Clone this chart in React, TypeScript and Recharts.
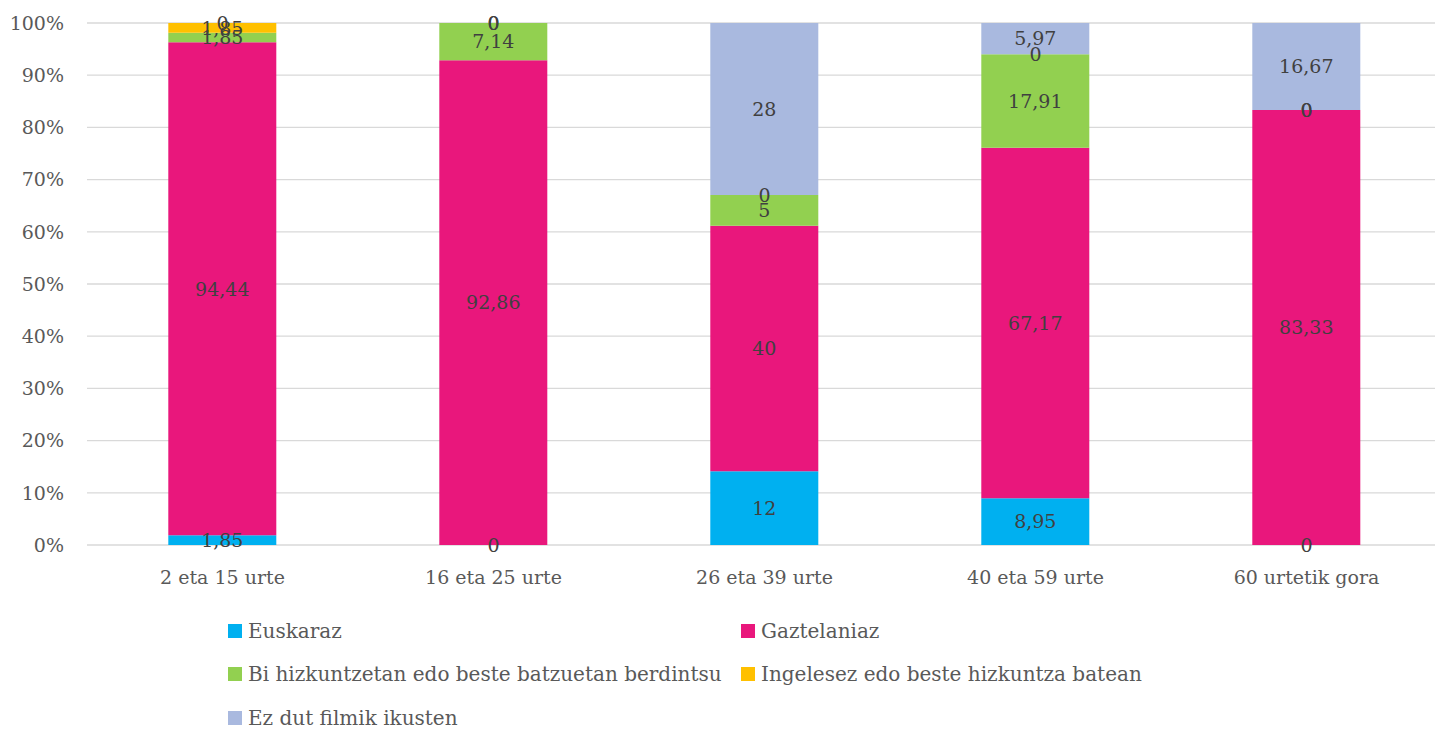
import { Bar, BarChart, CartesianGrid, LabelList, Legend, ReferenceDot, XAxis, YAxis } from "recharts";

// Excel-ish palette pinned from the reference picture.
const BLUE = "#00B0F0";
const PINK = "#E9177C";
const GREEN = "#92D050";
const YELLOW = "#FFC000";
const LAVENDER = "#A9B9DF";
const GRID = "#D9D9D9";
const AXIS_TEXT = "#595959";
const LABEL_TEXT = "#404040";
const FONT = "'DejaVu Serif', serif";

const CATEGORIES = ["2 eta 15 urte", "16 eta 25 urte", "26 eta 39 urte", "40 eta 59 urte", "60 urtetik gora"];
const EUSKARAZ = [1.85, 0, 12, 8.95, 0];
const GAZTELANIAZ = [94.44, 92.86, 40, 67.17, 83.33];
const BI_HIZKUNTZETAN = [1.85, 7.14, 5, 17.91, 0];
const INGELESEZ = [1.85, 0, 0, 0, 0];
const EZ_DUT = [0, 0, 28, 5.97, 16.67];
const Y_TICKS = [0, 0.1, 0.2, 0.3, 0.4, 0.5, 0.6, 0.7, 0.8, 0.9, 1];

const SERIES = [
  { key: "eus", name: "Euskaraz", color: BLUE, values: EUSKARAZ },
  { key: "gaz", name: "Gaztelaniaz", color: PINK, values: GAZTELANIAZ },
  { key: "bi", name: "Bi hizkuntzetan edo beste batzuetan berdintsu", color: GREEN, values: BI_HIZKUNTZETAN },
  { key: "ing", name: "Ingelesez edo beste hizkuntza batean", color: YELLOW, values: INGELESEZ },
  { key: "ez", name: "Ez dut filmik ikusten", color: LAVENDER, values: EZ_DUT },
];

const data = CATEGORIES.map((name, i) => {
  const row: Record<string, string | number> = { name };
  SERIES.forEach((s) => (row[s.key] = s.values[i]));
  return row;
});

// Recharts drops labels on zero-height segments, but Excel still prints "0"
// at the segment boundary — so place those via ReferenceDot on the same axes.
const zeroLabels = CATEGORIES.flatMap((name, i) => {
  const total = SERIES.reduce((acc, s) => acc + s.values[i], 0);
  let cum = 0;
  const out: { name: string; y: number; key: string }[] = [];
  SERIES.forEach((s) => {
    cum += s.values[i];
    if (s.values[i] === 0) out.push({ name, y: cum / total, key: `${s.key}-${i}` });
  });
  return out;
});

const fmtComma = (v: unknown) => String(v).replace(".", ",");

function LegendGrid() {
  return (
    <div
      style={{
        height: 130,
        boxSizing: "border-box",
        paddingTop: 10,
        paddingLeft: 228,
        display: "grid",
        gridTemplateColumns: "513px auto",
        gridAutoRows: 43.5,
        fontFamily: FONT,
        fontSize: 20,
        color: AXIS_TEXT,
      }}
    >
      {SERIES.map((s) => (
        <div key={s.key} style={{ display: "flex", alignItems: "center", whiteSpace: "nowrap" }}>
          <span style={{ width: 14, height: 14, background: s.color, marginRight: 6, flexShrink: 0 }} />
          {s.name}
        </div>
      ))}
    </div>
  );
}

export default function App() {
  return (
    <div style={{ position: "absolute", left: 0, top: 0, width: 1435, height: 729, overflow: "hidden", background: "#fff" }}>
      <BarChart
        width={1442}
        height={729}
        data={data}
        stackOffset="expand"
        barCategoryGap="30%"
        margin={{ top: 23, right: 0, bottom: 0, left: 0 }}
      >
        <CartesianGrid vertical={false} stroke={GRID} strokeWidth={1.3} />
        <XAxis
          dataKey="name"
          height={54}
          axisLine={false}
          tickLine={false}
          tickSize={0}
          tickMargin={26}
          tick={{ fill: AXIS_TEXT, fontSize: 19, fontFamily: FONT }}
        />
        <YAxis
          width={87}
          domain={[0, 1]}
          ticks={Y_TICKS}
          axisLine={false}
          tickLine={false}
          tickSize={0}
          tickMargin={23}
          tickFormatter={(v: number) => `${Math.round(v * 100)}%`}
          tick={{ fill: AXIS_TEXT, fontSize: 19, fontFamily: FONT }}
        />
        <Legend verticalAlign="bottom" content={() => <LegendGrid />} />
        {SERIES.map((s) => (
          <Bar key={s.key} dataKey={s.key} name={s.name} stackId="a" fill={s.color} isAnimationActive={false}>
            <LabelList
              dataKey={s.key}
              position="center"
              formatter={fmtComma}
              fill={LABEL_TEXT}
              fontSize={19}
              fontFamily={FONT}
            />
          </Bar>
        ))}
        {zeroLabels.map((z) => (
          <ReferenceDot
            key={z.key}
            x={z.name}
            y={z.y}
            r={0}
            fill="none"
            stroke="none"
            ifOverflow="visible"
            label={{ value: "0", position: "center", fill: LABEL_TEXT, fontSize: 19, fontFamily: FONT }}
          />
        ))}
      </BarChart>
    </div>
  );
}
